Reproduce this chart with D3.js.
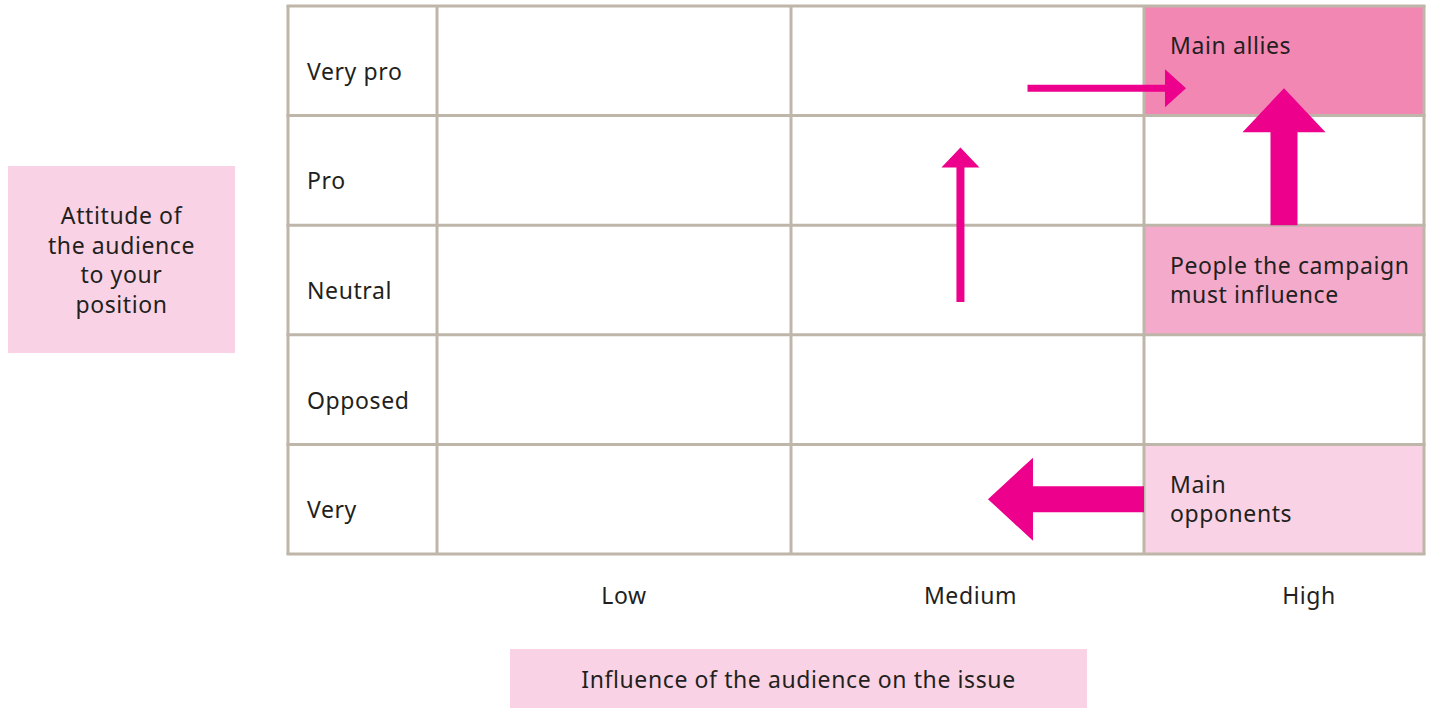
<!DOCTYPE html>
<html>
<head>
<meta charset="utf-8">
<script src="https://cdn.jsdelivr.net/npm/d3@7"></script>
<style>
  body { margin: 0; background: #fff; }
  text { font-family: "Noto Sans", sans-serif; font-size: 23px; fill: #231f20; letter-spacing: 0.6px; }
</style>
</head>
<body>
<div id="chart"></div>
<script>
// rows: attitude of the audience, columns: influence on the issue
var attitudes = ["Very pro", "Pro", "Neutral", "Opposed", "Very"];
var influences = ["Low", "Medium", "High"];

// highlighted cells [attitude, influence, shade, text lines]
var cells = [
  ["Very pro", "High", "strong", ["Main allies"]],
  ["Neutral", "High", "medium", ["People the campaign", "must influence"]],
  ["Very", "High", "light", ["Main", "opponents"]]
];

// arrows: [from col, from row, to col, to row] in cell units (col 0 = label column)
var arrows = [
  { from: [2.67, 0.75], to: [3.15, 0.75], shaft: 7, head: 38, len: 21 },
  { from: [2.48, 2.7], to: [2.48, 1.29], shaft: 8, head: 38, len: 20 },
  { from: [3.5, 2.0], to: [3.5, 0.75], shaft: 27, head: 83, len: 44 },
  { from: [3.0, 4.5], to: [2.558, 4.5], shaft: 26, head: 83, len: 45 }
];

var width = 1431;
var height = 708;
var shades = { strong: "#f287b4", medium: "#f3aacb", light: "#f9d3e5" };
var gridColor = "#bfb6aa";
var arrowColor = "#ec008c";

var svg = d3.select("#chart")
    .append("svg")
    .attr("width", width)
    .attr("height", height);

var gridTop = 6, gridBottom = 554;
var colEdges = [288, 437, 791, 1144, 1424];
var labelShift = [10, 3, 25];

var y = d3.scaleBand()
    .domain(attitudes)
    .range([gridTop, gridBottom]);

// column index (may be fractional) -> pixel
var xCol = d3.scaleLinear()
    .domain(d3.range(colEdges.length))
    .range(colEdges);
var xCat = function (name) { return influences.indexOf(name) + 1; };
var yRow = d3.scaleLinear()
    .domain([0, attitudes.length])
    .range([gridTop, gridBottom]);

// highlighted cells
svg.selectAll(".cell")
    .data(cells)
    .enter()
    .append("rect")
    .attr("x", function (d) { return xCol(xCat(d[1])); })
    .attr("y", function (d) { return y(d[0]); })
    .attr("width", function (d) { return xCol(xCat(d[1]) + 1) - xCol(xCat(d[1])); })
    .attr("height", y.bandwidth())
    .attr("fill", function (d) { return shades[d[2]]; });

// grid
var grid = svg.append("g")
    .attr("stroke", gridColor)
    .attr("stroke-width", 3)
    .attr("fill", "none");

grid.selectAll(".h")
    .data(d3.range(attitudes.length + 1))
    .enter()
    .append("line")
    .attr("x1", colEdges[0] - 1.5)
    .attr("x2", colEdges[colEdges.length - 1] + 1.5)
    .attr("y1", function (d) { return yRow(d); })
    .attr("y2", function (d) { return yRow(d); });

grid.selectAll(".v")
    .data(colEdges)
    .enter()
    .append("line")
    .attr("x1", function (d) { return d; })
    .attr("x2", function (d) { return d; })
    .attr("y1", gridTop)
    .attr("y2", gridBottom);

// arrows
function arrowPath(a) {
  var x0 = xCol(a.from[0]), y0 = yRow(a.from[1]);
  var x1 = xCol(a.to[0]), y1 = yRow(a.to[1]);
  var dx = x1 - x0, dy = y1 - y0;
  var L = Math.sqrt(dx * dx + dy * dy);
  var ux = dx / L, uy = dy / L, nx = -uy, ny = ux;
  var bx = x1 - ux * a.len, by = y1 - uy * a.len;
  var s = a.shaft / 2, h = a.head / 2;
  var p = d3.path();
  p.moveTo(x0 + nx * s, y0 + ny * s);
  p.lineTo(bx + nx * s, by + ny * s);
  p.lineTo(bx + nx * h, by + ny * h);
  p.lineTo(x1, y1);
  p.lineTo(bx - nx * h, by - ny * h);
  p.lineTo(bx - nx * s, by - ny * s);
  p.lineTo(x0 - nx * s, y0 - ny * s);
  p.closePath();
  return p.toString();
}

svg.selectAll(".arrow")
    .data(arrows)
    .enter()
    .append("path")
    .attr("d", arrowPath)
    .attr("fill", arrowColor);

// row labels
svg.selectAll(".rowLabel")
    .data(attitudes)
    .enter()
    .append("text")
    .attr("x", colEdges[0] + 19)
    .attr("y", function (d) { return y(d) + y.bandwidth() / 2 + 19; })
    .text(function (d) { return d; });

// column labels
svg.selectAll(".colLabel")
    .data(influences)
    .enter()
    .append("text")
    .attr("text-anchor", "middle")
    .attr("x", function (d, i) { return (xCol(i + 1) + xCol(i + 2)) / 2 + labelShift[i]; })
    .attr("y", 604)
    .text(function (d) { return d; });

// cell texts
svg.selectAll(".cellText")
    .data(cells)
    .enter()
    .append("text")
    .attr("x", function (d) { return xCol(xCat(d[1])) + 26; })
    .attr("y", function (d) { return y(d[0]) + (d[3].length === 1 ? 48 : 49); })
    .selectAll("tspan")
    .data(function (d) { return d[3]; })
    .enter()
    .append("tspan")
    .attr("x", function () { return d3.select(this.parentNode).attr("x"); })
    .attr("dy", function (d, i) { return i === 0 ? 0 : 29; })
    .text(function (d) { return d; });

// axis title boxes
svg.append("rect")
    .attr("x", 8).attr("y", 166)
    .attr("width", 227).attr("height", 187)
    .attr("fill", shades.light);

svg.append("text")
    .attr("text-anchor", "middle")
    .attr("x", 121.5)
    .attr("y", 224)
    .selectAll("tspan")
    .data(["Attitude of", "the audience", "to your", "position"])
    .enter()
    .append("tspan")
    .attr("x", 121.5)
    .attr("dy", function (d, i) { return i === 0 ? 0 : 29.5; })
    .text(function (d) { return d; });

svg.append("rect")
    .attr("x", 510).attr("y", 649)
    .attr("width", 577).attr("height", 59)
    .attr("fill", shades.light);

svg.append("text")
    .attr("text-anchor", "middle")
    .attr("x", 798.5)
    .attr("y", 688)
    .text("Influence of the audience on the issue");
</script>
</body>
</html>
